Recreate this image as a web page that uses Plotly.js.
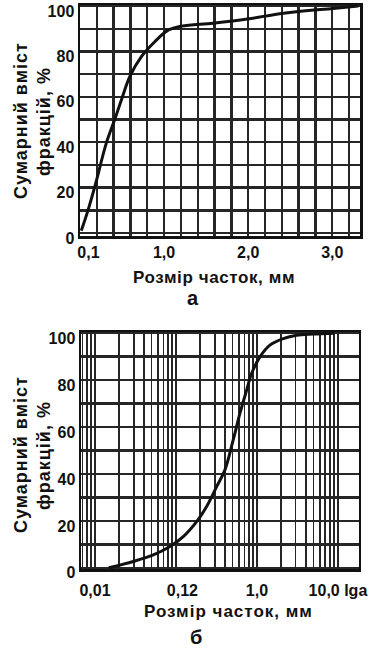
<!DOCTYPE html>
<html>
<head>
<meta charset="utf-8">
<script src="https://cdn.plot.ly/plotly-3.0.1.min.js"></script>
<style>html,body{margin:0;padding:0;background:#fff;}#chart{width:382px;height:649px;}</style>
</head>
<body>
<div id="chart"></div>
<script>
// Chart (a): linear particle size, mm
const sizeA = [0.015, 0.095, 0.18, 0.313, 0.413, 0.492, 0.592, 0.730, 0.889, 1.048, 1.206, 1.58, 1.99, 2.42, 3.01, 3.31];
const cumA  = [1, 10, 21, 39.6, 50, 58.6, 68.9, 77.7, 84.3, 89.4, 91.2, 92.5, 94.3, 96.9, 99, 100];
// Chart (б): logarithmic particle size, mm
const sizeB = [0.0148, 0.0297, 0.0525, 0.0843, 0.123, 0.180, 0.239, 0.318, 0.402, 0.509, 0.616, 0.746, 0.861, 1.089, 1.446, 2.113, 3.096, 4.955, 9.0];
const cumB  = [0, 2.7, 5.5, 9.1, 13.3, 19.7, 26.1, 34.6, 41.7, 54.5, 65.8, 75.7, 82.9, 89.9, 94.9, 97.7, 99.1, 99.6, 100];
// Tick labels
const tickValsA = [0.1, 1, 2, 3];
const tickTextA = ['0,1', '1,0', '2,0', '3,0'];
const tickValsB = [0.01, 0.12, 1, 10];
const tickTextB = ['0,01', '0,12', '1,0', '10,0 lga'];
const yTitleL1 = 'Сумарний вміст';
const yTitleL2 = 'фракцій, %';
const xTitle = 'Розмір часток, мм';
const panelA = 'а';
const panelB = 'б';

const ink = '#111';
const gridCol = '#262626';
const gw = 2.4;
const fam = '"Liberation Sans", Arial, sans-serif';
const tickFont = {family: fam, size: 16, color: ink, weight: 'bold'};
const sp = (s, ls) => '<span style="letter-spacing:' + ls + 'px">' + s + '</span>';

const traces = [
  {x: sizeA, y: cumA, xaxis: 'x', yaxis: 'y', mode: 'lines', type: 'scatter',
   line: {color: ink, width: 3, shape: 'spline', smoothing: 1.0}, hoverinfo: 'skip'},
  {x: sizeB, y: cumB, xaxis: 'x2', yaxis: 'y2', mode: 'lines', type: 'scatter',
   line: {color: ink, width: 3, shape: 'spline', smoothing: 1.0}, hoverinfo: 'skip'},
  // empty traces so the grid-only overlay axes get drawn
  {x: [], y: [], xaxis: 'x3', yaxis: 'y', type: 'scatter', mode: 'lines', hoverinfo: 'skip'},
  {x: [], y: [], xaxis: 'x4', yaxis: 'y2', type: 'scatter', mode: 'lines', hoverinfo: 'skip'}
];

const rangeA = [0, 3.33];
const rangeB = [Math.log10(0.00672), Math.log10(18.2)];

function yAx(domain, range, anchor) {
  return {domain: domain, anchor: anchor, range: range, tick0: 0, dtick: 20,
    showgrid: true, gridcolor: gridCol, gridwidth: gw,
    minor: {tick0: 0, dtick: 10, showgrid: true, gridcolor: gridCol, gridwidth: gw},
    zeroline: false, showline: true, mirror: true, linewidth: 2.5, linecolor: ink,
    ticks: '', tickfont: tickFont, ticklabelshift: 5, ticklabelstandoff: 0};
}

const titleFont = {family: fam, size: 18, color: ink, weight: 'bold'};
const xTitleFont = {family: fam, size: 17, color: ink, weight: 'bold'};
const panelFont = {family: fam, size: 20, color: ink, weight: 'bold'};

const layout = {
  width: 382, height: 649,
  margin: {l: 80, r: 22, t: 5, b: 80},
  paper_bgcolor: '#fff', plot_bgcolor: '#fff', showlegend: false,
  font: {family: fam, color: ink},
  xaxis: {domain: [0, 1], anchor: 'y', range: rangeA, tickmode: 'array',
    tickvals: tickValsA, ticktext: tickTextA, showgrid: false, zeroline: false,
    showline: true, mirror: true, linewidth: 2.5, linecolor: ink, ticks: '',
    tickfont: tickFont, ticklabelstandoff: 0},
  xaxis3: {overlaying: 'x', anchor: 'y', range: rangeA, tick0: 0, dtick: 0.2,
    showgrid: true, gridcolor: gridCol, gridwidth: gw, showticklabels: false,
    ticks: '', zeroline: false, showline: false},
  yaxis: yAx([0.5897, 1], [-1.5, 100.5], 'x'),
  xaxis2: {domain: [0.0036, 0.9964], anchor: 'y2', type: 'log', range: rangeB,
    tickmode: 'array', tickvals: tickValsB, ticktext: tickTextB, showgrid: false,
    zeroline: false, showline: true, mirror: true, linewidth: 2.5, linecolor: ink,
    ticks: '', tickfont: tickFont, ticklabelstandoff: 5},
  xaxis4: {overlaying: 'x2', anchor: 'y2', type: 'log', range: rangeB, dtick: 'D1',
    showgrid: true, gridcolor: gridCol, gridwidth: 1.8, showticklabels: false,
    ticks: '', zeroline: false, showline: false},
  yaxis2: yAx([0, 0.4202], [-0.5, 100.5], 'x2'),
  annotations: [
    {xref: 'paper', yref: 'paper', x: -0.2107, y: 0.7943, text: sp(yTitleL1, 1), textangle: -90,
     showarrow: false, xanchor: 'center', yanchor: 'middle', font: titleFont},
    {xref: 'paper', yref: 'paper', x: -0.1286, y: 0.7943, text: sp(yTitleL2, 1), textangle: -90,
     showarrow: false, xanchor: 'center', yanchor: 'middle', font: titleFont},
    {xref: 'paper', yref: 'paper', x: -0.2107, y: 0.2021, text: sp(yTitleL1, 1), textangle: -90,
     showarrow: false, xanchor: 'center', yanchor: 'middle', font: titleFont},
    {xref: 'paper', yref: 'paper', x: -0.1286, y: 0.2021, text: sp(yTitleL2, 1), textangle: -90,
     showarrow: false, xanchor: 'center', yanchor: 'middle', font: titleFont},
    {xref: 'paper', yref: 'paper', x: 0.4786, y: 0.5177, text: sp(xTitle, 0.6), showarrow: false,
     xanchor: 'center', yanchor: 'middle', font: xTitleFont},
    {xref: 'paper', yref: 'paper', x: 0.5286, y: -0.0762, text: sp(xTitle, 1), showarrow: false,
     xanchor: 'center', yanchor: 'middle', font: xTitleFont},
    {xref: 'paper', yref: 'paper', x: 0.405, y: 0.4805, text: panelA, showarrow: false,
     xanchor: 'center', yanchor: 'middle', font: panelFont},
    {xref: 'paper', yref: 'paper', x: 0.416, y: -0.1206, text: panelB, showarrow: false,
     xanchor: 'center', yanchor: 'middle', font: panelFont}
  ]
};

Plotly.newPlot('chart', traces, layout, {staticPlot: true, displayModeBar: false});
</script>
</body>
</html>
